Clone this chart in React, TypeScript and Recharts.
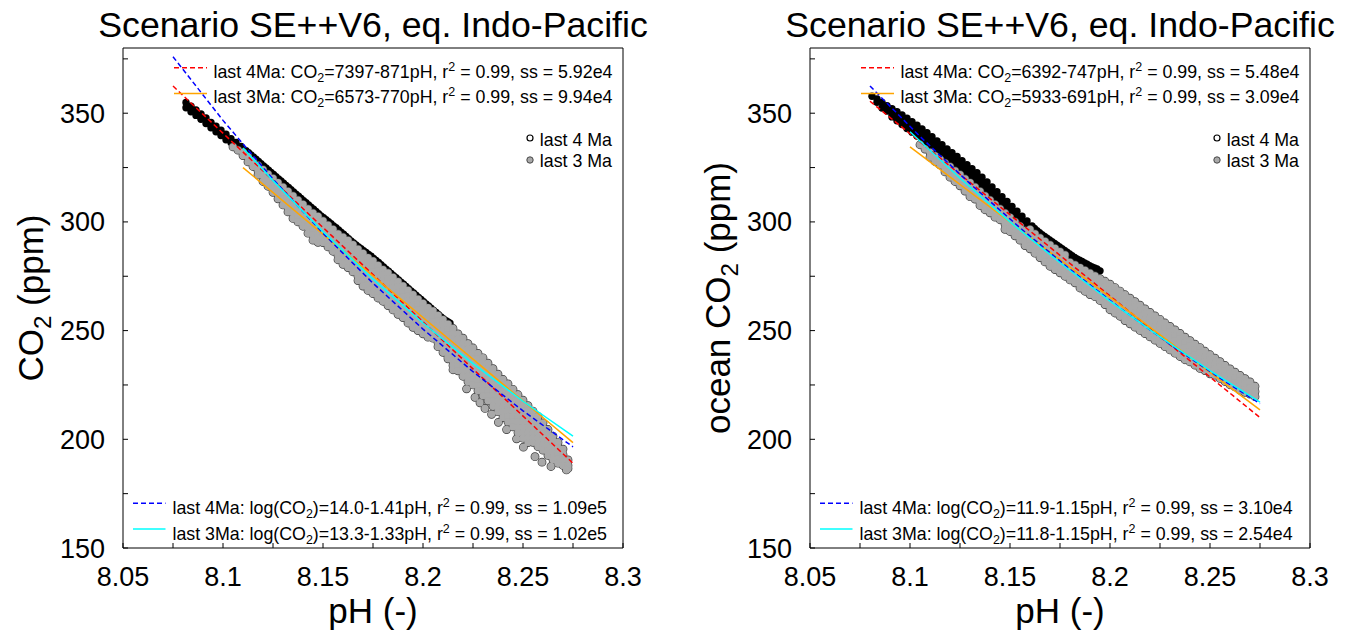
import React from 'react';
import { ScatterChart, Scatter, XAxis, YAxis } from 'recharts';

const FONT = '"Liberation Sans", Arial, Helvetica, sans-serif';

// ---------- axes ----------
const X_DOMAIN: [number, number] = [8.05, 8.3];
const Y_DOMAIN: [number, number] = [150, 380];
const xTicks = [8.05, 8.075, 8.1, 8.125, 8.15, 8.175, 8.2, 8.225, 8.25, 8.275, 8.3];
const xTickLabels = ['8.05', '', '8.1', '', '8.15', '', '8.2', '', '8.25', '', '8.3'];
const yTicks = [150, 175, 200, 225, 250, 275, 300, 325, 350, 375];
const yTickLabels = ['150', '', '200', '', '250', '', '300', '', '350', ''];

// ---------- scatter data: [pH, [CO2 values ...]] ----------
type Col = [number, number[]];

const left4Ma: Col[] = [
  [8.0815, [354.9, 352.5]], [8.084, [353.2, 350.7]], [8.0865, [351.5, 349]], [8.089, [349.7, 347.2]],
  [8.0915, [347.8, 345.3]], [8.094, [345.8, 343.3]], [8.0965, [344, 341.5]], [8.099, [342.2, 339.7]],
  [8.1015, [340.3, 337.8]], [8.104, [338.3, 336.5]], [8.1065, [336.5, 335]], [8.109, [334.7, 333]],
  [8.1115, [332.8]], [8.114, [330.8]], [8.1165, [328.8]], [8.119, [326.8]], [8.1215, [324.8]],
  [8.124, [322.8]], [8.1265, [320.8]], [8.129, [318.8]], [8.1315, [316.8]], [8.134, [314.8]],
  [8.1365, [312.8]], [8.139, [310.8]], [8.1415, [308.8]], [8.144, [306.8]], [8.1465, [304.8]],
  [8.149, [302.8]], [8.1515, [301]], [8.154, [299.2]], [8.1565, [297.3]], [8.159, [295.3]],
  [8.1615, [293.3]], [8.164, [291.3]], [8.1665, [289.4]], [8.169, [287.7]], [8.1715, [285.9]],
  [8.174, [284.2]], [8.1765, [282.3]], [8.179, [280.3]], [8.1815, [278.3]], [8.184, [276.3]],
  [8.1865, [274.3]], [8.189, [272.3]], [8.1915, [270.3]], [8.194, [268.3]], [8.1965, [266.3]],
  [8.199, [264.3]], [8.2015, [262.3]], [8.204, [260.3]], [8.2065, [258.3]], [8.209, [256.3]],
  [8.2115, [254.6]], [8.2135, [253.4]],
  [8.11275, [331.8]], [8.11525, [329.8]], [8.11775, [327.8]], [8.12025, [325.8]], [8.12275, [323.8]],
  [8.12525, [321.8]], [8.12775, [319.8]], [8.13025, [317.8]], [8.13275, [315.8]], [8.13525, [313.8]],
  [8.13775, [311.8]], [8.14025, [309.8]], [8.14275, [307.8]], [8.14525, [305.8]], [8.14775, [303.8]],
  [8.15025, [301.9]], [8.15275, [300.1]], [8.15525, [298.2]], [8.15775, [296.3]], [8.16025, [294.3]],
  [8.16275, [292.3]], [8.16525, [290.3]], [8.16775, [288.5]], [8.17025, [286.8]], [8.17275, [285]],
  [8.17525, [283.2]], [8.17775, [281.3]], [8.18025, [279.3]], [8.18275, [277.3]], [8.18525, [275.3]],
  [8.18775, [273.3]], [8.19025, [271.3]], [8.19275, [269.3]], [8.19525, [267.3]], [8.19775, [265.3]],
  [8.20025, [263.3]], [8.20275, [261.3]], [8.20525, [259.3]], [8.20775, [257.3]], [8.21025, [255.4]],
  [8.2125, [254]],
];

const left3Ma: Col[] = [
  [8.105, [334.5]], [8.1075, [333]], [8.11, [332, 330.5]], [8.1125, [330, 327.6]],
  [8.115, [328, 325.5]], [8.1175, [326, 323.5, 321.6]], [8.12, [324, 321.3, 318.6]],
  [8.1225, [322, 319.2, 316.4]], [8.125, [320, 317.5, 315, 313.6]], [8.1275, [318, 315.5, 313, 310.6]],
  [8.13, [316, 313.3, 310.6, 307.8]], [8.1325, [314, 311.5, 309, 306.5, 304.6]],
  [8.135, [312, 309.4, 306.8, 304.2, 301.6]], [8.1375, [310, 307.5, 305, 302.5, 300]],
  [8.14, [308, 305.5, 303, 300.5, 298]], [8.1425, [306, 303.2, 300.4, 297.6, 294.8]],
  [8.145, [304, 301.5, 299, 296.5, 294, 291.6]], [8.1475, [302.5, 300, 297.5, 295, 292.5, 290.6]],
  [8.15, [300.5, 298, 295.5, 293, 290.5]], [8.1525, [298.5, 296, 293.5, 291, 288.5]],
  [8.155, [296.5, 294, 291.5, 289, 286.5]], [8.1575, [294.5, 292, 289.5, 287, 284.5, 282.6]],
  [8.16, [293, 290.5, 288, 285.5, 283, 280.5]], [8.1625, [291.5, 289, 286.5, 284, 281.5, 279]],
  [8.165, [289.5, 287, 284.5, 282, 279.5, 277]], [8.1675, [287.5, 285, 282.5, 280, 277.5, 275, 273]],
  [8.17, [285.5, 283, 280.5, 278, 275.5, 273, 270.5]], [8.1725, [283.5, 281, 278.5, 276, 273.5, 271, 268.5]],
  [8.175, [282, 279.5, 277, 274.5, 272, 269.5, 267]], [8.1775, [280, 277.5, 275, 272.5, 270, 267.5, 265]],
  [8.18, [278, 275.5, 273, 270.5, 268, 265.5, 263.5]], [8.1825, [276.5, 274, 271.5, 269, 266.5, 264, 261.5]],
  [8.185, [274.5, 272, 269.5, 267, 264.5, 262, 259.5]], [8.1875, [272.5, 270, 267.5, 265, 262.5, 260, 257.5]],
  [8.19, [270.5, 268, 265.5, 263, 260.5, 258, 256]], [8.1925, [268.5, 266, 263.5, 261, 258.5, 256, 253.5]],
  [8.195, [266.5, 264, 261.5, 259, 256.5, 254, 251.5]], [8.1975, [264.5, 262, 259.5, 257, 254.5, 252, 250]],
  [8.2, [262.5, 260, 257.5, 255, 252.5, 250, 248.5]], [8.2025, [260.5, 258, 255.5, 253, 250.5, 248, 247]],
  [8.205, [259, 256.5, 254, 251.5, 249, 246.5]], [8.2075, [257, 254.5, 252, 249.5, 247, 244.5, 242.6]],
  [8.21, [255, 252.5, 250, 247.5, 245, 242.5, 240]], [8.2125, [253, 250.5, 248, 245.5, 243, 240.5, 238, 237]],
  [8.215, [251, 248.5, 246, 243.5, 241, 238.5, 236, 234, 232]], [8.2175, [248.5, 246, 243.5, 241, 238.5, 236, 233.5, 231.5]],
  [8.22, [246.5, 244, 241.5, 239, 236.5, 234, 231.5, 229]], [8.2225, [244, 241.5, 239, 236.5, 234, 231.5, 229, 226.5]],
  [8.225, [242, 239.5, 237, 234.5, 232, 229.5, 227.3, 225]], [8.2275, [239.5, 237, 234.5, 232, 229.5, 227, 224.6, 222.3]],
  [8.23, [237.5, 235, 232.5, 230, 227.5, 225, 222.5, 220]], [8.2325, [235, 232.5, 230, 227.5, 225, 222.5, 220, 217.7]],
  [8.235, [232.5, 230, 227.5, 225, 222.5, 220, 217.6, 215.2]], [8.2375, [230, 227.5, 225, 222.5, 220, 217.5, 215, 212.7]],
  [8.24, [227.5, 225, 222.5, 220, 217.5, 215, 212.5, 210]], [8.2425, [225.5, 223, 220.5, 218, 215.5, 213, 210.5, 208]],
  [8.245, [223, 220.5, 218, 215.5, 213, 210.5, 208, 205.7]], [8.2475, [220.5, 218, 215.5, 213, 210.5, 208, 205.5, 203]],
  [8.25, [218, 215.5, 213, 210.5, 208, 205.5, 203, 200.5]], [8.2525, [215.5, 213, 210.5, 208, 205.5, 203, 200.5, 198.5]],
  [8.255, [213, 210.5, 208, 205.5, 203, 200.5, 198.6]], [8.2575, [210.5, 208, 205.5, 203, 200.5, 198, 196.6]],
  [8.26, [207.5, 205, 202.5, 200, 197.5, 195]], [8.2625, [204.5, 202, 199.5, 197, 194.5, 192.6]],
  [8.265, [201.5, 199, 196.5, 194, 191.5, 190.6]], [8.2675, [198.5, 196, 193.5, 191, 189]],
  [8.27, [195.5, 193, 190.5, 188]], [8.2725, [190.5, 188, 186.6]],
  // isolated low points
  [8.2218, [223.2]], [8.226, [219.3]], [8.2285, [216.8]], [8.231, [214.2]], [8.2343, [211.5]],
  [8.2377, [207.8]], [8.2418, [204.5]], [8.2468, [200.2]], [8.2502, [196.4]], [8.256, [192]],
  [8.2595, [189.5]], [8.264, [187.5]], [8.2717, [185.9]],
];

const right4Ma: Col[] = [
  [8.081, [357.8]], [8.0835, [356.6, 355]], [8.086, [354.9, 352.4]], [8.0885, [353.5, 351]],
  [8.091, [352.1, 349.6, 348.3]], [8.0935, [350.7, 348.2, 346.5]], [8.096, [349.2, 346.7, 344.8]],
  [8.0985, [347.7, 345.2, 343]], [8.101, [346.1, 343.6, 341.3]], [8.1035, [344.5, 342, 339.5]],
  [8.106, [342.8, 340.3, 337.8]], [8.1085, [341, 338.5, 336]], [8.111, [339.2, 336.7, 334.2]],
  [8.1135, [337.3, 334.8, 332.3]], [8.116, [335.5, 333, 330.5]], [8.1185, [333.6, 331.1, 328.6]],
  [8.121, [331.8, 329.3, 326.8]], [8.1235, [330.1, 327.6, 325.1]], [8.126, [328.2, 325.7, 323.2]],
  [8.1285, [326.3, 323.8, 321.3]], [8.131, [324.5, 322, 319.5]], [8.1335, [322.6, 320.1, 317.7]],
  [8.136, [320.6, 318.1, 316.1]], [8.1385, [318.4, 315.9, 313.7]], [8.141, [316.1, 313.6, 311.5]],
  [8.1435, [313.9, 311.4, 309.1]], [8.146, [311.6, 309.1, 306.8]], [8.1485, [309.4, 306.9, 304.5]],
  [8.151, [307.1, 304.6, 302.4]], [8.1535, [304.9, 302.4]], [8.156, [302.6, 300.3]],
  [8.1585, [300.4, 298.2]], [8.161, [298.1]], [8.1635, [296]],
  [8.166, [294.1]], [8.1685, [292.5]], [8.171, [290.9]], [8.1735, [289.3]],
  [8.176, [287.7]], [8.1785, [286.1]], [8.181, [284.5]], [8.1835, [283]],
  [8.186, [281.8]], [8.1885, [280.5]], [8.191, [279.3]], [8.1935, [278.4]], [8.195, [277.5]],
  [8.16225, [297]], [8.16475, [295]], [8.16725, [293.3]], [8.16975, [291.7]], [8.17225, [290.1]],
  [8.17475, [288.5]], [8.17725, [286.9]], [8.17975, [285.3]], [8.18225, [283.7]], [8.18475, [282.4]],
  [8.18725, [281.1]], [8.18975, [279.9]], [8.19225, [278.8]],
];

const right3Ma: Col[] = [
  [8.105, [335.5]], [8.1075, [333.5]], [8.11, [332, 329.8]], [8.1125, [330.3, 327.8]],
  [8.115, [328.7, 326.2]], [8.1175, [327, 324.5, 323]], [8.12, [325.4, 323, 320.6]],
  [8.1225, [323.5, 321, 318.6]], [8.125, [321.7, 319.2, 316.6]], [8.1275, [319.8, 317, 314.2]],
  [8.13, [318, 315.5, 313, 311.6]], [8.1325, [316, 313.3, 310.5]], [8.135, [314, 311.5, 309, 307.6]],
  [8.1375, [312, 309.5, 307, 305.6]], [8.14, [310, 307, 304.2]], [8.1425, [308, 305, 302.2]],
  [8.145, [306, 303.5, 301]], [8.1475, [304, 301.5, 299, 296.6]], [8.15, [302, 299.5, 297, 295.6]],
  [8.1525, [300, 297.5, 295, 293.6]], [8.155, [298, 295.5, 293, 291.6]], [8.1575, [296, 293.5, 291, 289.1]],
  [8.16, [296.5, 294, 291.5, 289, 287.6]], [8.1625, [294.5, 292.2, 289.7, 287.2, 285.6]],
  [8.165, [292.6, 290.4, 288, 285.5, 283.6]], [8.1675, [291, 288.7, 286.2, 283.7, 281.6]],
  [8.17, [289.4, 287, 284.5, 282, 279.6]], [8.1725, [287.8, 285.5, 283, 280.5, 278.1]],
  [8.175, [286.3, 284.2, 281.7, 279.2, 276.6]], [8.1775, [284.8, 282.8, 280.2, 277.6, 275]],
  [8.18, [281.4, 278.7, 276, 273.3]],
  [8.1825, [280.2, 277.5, 274.8, 272]], [8.185, [278.9, 276.4, 273.9, 271.4, 269.6]],
  [8.1875, [277.7, 275.2, 272.7, 270.2, 268.1]], [8.19, [276.4, 273.9, 271.4, 268.9, 266.6]],
  [8.1925, [275.2, 272.7, 270.2, 267.7, 265.6]], [8.195, [273.9, 271.4, 268.9, 266.4, 263.9]],
  [8.1975, [272.7, 270, 267.3, 264.6, 262]], [8.2, [271.4, 268.9, 266.4, 263.9, 261.4, 259.6]],
  [8.2025, [269.8, 267.3, 264.8, 262.3, 259.8, 258.1]], [8.205, [268.2, 265.7, 263.2, 260.7, 258.2, 256.6]],
  [8.2075, [266.5, 264, 261.5, 259, 256.5, 254.6]], [8.21, [264.9, 262.4, 259.9, 257.4, 254.9, 253.1]],
  [8.2125, [263.3, 260.8, 258.3, 255.8, 253.3, 251.6]], [8.215, [261.7, 259.2, 256.7, 254.2, 251.7, 250.1]],
  [8.2175, [260, 257.5, 255, 252.5, 250, 248.6]], [8.22, [258.4, 255.9, 253.4, 250.9, 248.4, 247.1]],
  [8.2225, [256.8, 254.3, 251.8, 249.3, 246.8, 245.6]], [8.225, [255.2, 252.7, 250.2, 247.7, 245.2, 244.1]],
  [8.2275, [253.5, 251, 248.5, 246, 243.5, 242.6]], [8.23, [251.9, 249.4, 246.9, 244.4, 241.9, 241.1]],
  [8.2325, [250.3, 247.8, 245.3, 242.8, 240.3, 239.6]], [8.235, [248.7, 246.2, 243.7, 241.2, 238.7, 238.1]],
  [8.2375, [247, 244.5, 242, 239.5, 237, 236.6]], [8.24, [245.4, 242.9, 240.4, 237.9, 235.6]],
  [8.2425, [243.8, 241.3, 238.8, 236.3, 234.1]], [8.245, [242.2, 239.7, 237.2, 234.7, 232.6]],
  [8.2475, [240.5, 238, 235.5, 233, 231.6]], [8.25, [238.9, 236.4, 233.9, 231.4, 230.1]],
  [8.2525, [237.3, 234.8, 232.3, 229.5]], [8.255, [235.7, 233.2, 230.7, 228]],
  [8.2575, [234, 231.5, 229, 226.6]], [8.26, [232.4, 229.9, 227.4, 225.1]],
  [8.2625, [230.9, 228.4, 225.9, 224.1]], [8.265, [229.4, 226.9, 224.4, 222.6]],
  [8.2675, [227.9, 225.4, 222.9, 221.6]], [8.27, [226.4, 223.6, 220.8]], [8.2725, [224.4, 222, 219.6]],
];

// ---------- fitted curves ----------
type Pt = [number, number];
const leftLin4: Pt[] = [[8.075, 362.5], [8.275, 189]];
const leftLin3: Pt[] = [[8.11, 325], [8.275, 198.5]];
const leftLog4: Pt[] = [
  [8.075, 376], [8.1, 346.7], [8.125, 319.7], [8.15, 294.8], [8.175, 271.8],
  [8.2, 250.7], [8.225, 231.1], [8.25, 213.1], [8.275, 196.5],
];
const leftLog3: Pt[] = [
  [8.11, 334], [8.125, 319], [8.15, 295.5], [8.175, 273.7], [8.2, 253.5],
  [8.225, 234.8], [8.25, 217.5], [8.275, 201.5],
];

const rightLin4: Pt[] = [[8.08, 355.5], [8.275, 210]];
const rightLin3: Pt[] = [[8.1, 334.5], [8.275, 213.5]];
const rightLog4: Pt[] = [
  [8.08, 362.5], [8.105, 339.3], [8.13, 317.6], [8.155, 297.3], [8.18, 278.2],
  [8.205, 260.4], [8.23, 243.7], [8.255, 228.1], [8.275, 216.4],
];
const rightLog3: Pt[] = [
  [8.1, 341.5], [8.125, 320.1], [8.15, 300], [8.175, 281.2], [8.2, 263.6],
  [8.225, 247.1], [8.25, 231.6], [8.275, 217.1],
];

// ---------- texts ----------
const TITLE = 'Scenario SE++V6, eq. Indo-Pacific';
const leftLegendTop = [
  ['last 4Ma: CO', '=7397-871pH, r', ' = 0.99, ss = 5.92e4'],
  ['last 3Ma: CO', '=6573-770pH, r', ' = 0.99, ss = 9.94e4'],
];
const leftLegendBottom = [
  ['last 4Ma: log(CO', ')=14.0-1.41pH, r', ' = 0.99, ss = 1.09e5'],
  ['last 3Ma: log(CO', ')=13.3-1.33pH, r', ' = 0.99, ss = 1.02e5'],
];
const rightLegendTop = [
  ['last 4Ma: CO', '=6392-747pH, r', ' = 0.99, ss = 5.48e4'],
  ['last 3Ma: CO', '=5933-691pH, r', ' = 0.99, ss = 3.09e4'],
];
const rightLegendBottom = [
  ['last 4Ma: log(CO', ')=11.9-1.15pH, r', ' = 0.99, ss = 3.10e4'],
  ['last 3Ma: log(CO', ')=11.8-1.15pH, r', ' = 0.99, ss = 2.54e4'],
];

// ---------- colours ----------
const RED = '#ff0000';
const ORANGE = '#ffa500';
const BLUE = '#0000ff';
const CYAN = '#00ffff';
const GRAY = '#a9a9a9';
const GRAY_EDGE = '#3a3a3a';

const flat = (cols: Col[]) => cols.flatMap(([x, ys]) => ys.map((y) => ({ x, y })));
const pts = (p: Pt[]) => p.map(([x, y]) => ({ x, y }));

const blackDot = (p: any) => <circle cx={p.cx} cy={p.cy} r={3.7} fill="#000" />;
const grayEdgeDot = (p: any) => <circle cx={p.cx} cy={p.cy} r={3.7} fill={GRAY} stroke={GRAY_EDGE} strokeWidth={1.4} />;
const grayFillDot = (p: any) => <circle cx={p.cx} cy={p.cy} r={3.7} fill={GRAY} />;
const noDot = () => <g />;

const fmtX = (v: number) => {
  const i = xTicks.indexOf(v);
  return i >= 0 ? xTickLabels[i] : '';
};
const fmtY = (v: number) => {
  const i = yTicks.indexOf(v);
  return i >= 0 ? yTickLabels[i] : '';
};

const TICK = { fontSize: 27, fill: '#000', fontFamily: FONT };

type PanelProps = {
  left: number;
  width: number;
  black: Col[];
  gray: Col[];
  lin4: Pt[];
  lin3: Pt[];
  log4: Pt[];
  log3: Pt[];
};

function Panel({ left, width, black, gray, lin4, lin3, log4, log3 }: PanelProps) {
  const blackPts = flat(black);
  const grayPts = flat(gray);
  return (
    <div style={{ position: 'absolute', left, top: 0 }}>
      <ScatterChart width={width} height={637} margin={{ top: 47, right: width - 624, bottom: 49, left: 63 }}>
        <XAxis
          xAxisId="b" type="number" dataKey="x" domain={X_DOMAIN} ticks={xTicks} interval={0}
          tickFormatter={fmtX} tickSize={-5} tickMargin={24} height={40} allowDataOverflow
          axisLine={{ stroke: '#000', strokeWidth: 1 }} tickLine={{ stroke: '#000' }} tick={TICK}
        />
        <XAxis
          xAxisId="t" orientation="top" type="number" dataKey="x" domain={X_DOMAIN} ticks={xTicks} interval={0}
          tickSize={-5} height={1} tick={false} allowDataOverflow
          axisLine={{ stroke: '#000', strokeWidth: 1 }} tickLine={{ stroke: '#000' }}
        />
        <YAxis
          yAxisId="l" type="number" dataKey="y" domain={Y_DOMAIN} ticks={yTicks} interval={0}
          tickFormatter={fmtY} tickSize={-5} tickMargin={23} width={60} allowDataOverflow
          axisLine={{ stroke: '#000', strokeWidth: 1 }} tickLine={{ stroke: '#000' }} tick={TICK}
        />
        <YAxis
          yAxisId="r" orientation="right" type="number" dataKey="y" domain={Y_DOMAIN} ticks={yTicks} interval={0}
          tickSize={-5} width={1} tick={false} allowDataOverflow
          axisLine={{ stroke: '#000', strokeWidth: 1 }} tickLine={{ stroke: '#000' }}
        />
        <Scatter xAxisId="b" yAxisId="l" data={blackPts} shape={blackDot} isAnimationActive={false} />
        <Scatter xAxisId="b" yAxisId="l" data={grayPts} shape={grayEdgeDot} isAnimationActive={false} />
        <Scatter xAxisId="b" yAxisId="l" data={grayPts} shape={grayFillDot} isAnimationActive={false} />
        <Scatter xAxisId="b" yAxisId="l" data={pts(lin4)} fill={RED} shape={noDot} isAnimationActive={false}
          line={{ stroke: RED, strokeWidth: 1.5, strokeDasharray: '5 3' }} />
        <Scatter xAxisId="b" yAxisId="l" data={pts(lin3)} fill={ORANGE} shape={noDot} isAnimationActive={false}
          line={{ stroke: ORANGE, strokeWidth: 1.5 }} />
        <Scatter xAxisId="b" yAxisId="l" data={pts(log4)} fill={BLUE} shape={noDot} isAnimationActive={false}
          line={{ stroke: BLUE, strokeWidth: 1.5, strokeDasharray: '5 3' }} />
        <Scatter xAxisId="b" yAxisId="l" data={pts(log3)} fill={CYAN} shape={noDot} isAnimationActive={false}
          line={{ stroke: CYAN, strokeWidth: 1.5 }} />
      </ScatterChart>
    </div>
  );
}

function Eq({ x, y, parts }: { x: number; y: number; parts: string[] }) {
  return (
    <text x={x} y={y} fontSize={17.8} fill="#000" style={{ whiteSpace: 'pre' }}>
      <tspan>{parts[0]}</tspan>
      <tspan fontSize={12.5} dy={4}>2</tspan>
      <tspan dy={-4}>{parts[1]}</tspan>
      <tspan fontSize={12.5} dy={-7}>2</tspan>
      <tspan dy={7}>{parts[2]}</tspan>
    </text>
  );
}

function Overlay() {
  const panels = [
    { fl: 123, top: leftLegendTop, bottom: leftLegendBottom, yl: 'CO', ylx: 43 },
    { fl: 810, top: rightLegendTop, bottom: rightLegendBottom, yl: 'ocean CO', ylx: 730 },
  ];
  return (
    <svg width={1350} height={637} style={{ position: 'absolute', left: 0, top: 0, pointerEvents: 'none' }} fontFamily={FONT}>
      {panels.map((p, i) => {
        const cx = p.fl + 250;
        const fr = p.fl + 500;
        return (
          <g key={i}>
            <text x={cx} y={37} fontSize={35.7} textAnchor="middle" fill="#000">{TITLE}</text>
            <text x={cx} y={623} fontSize={35} textAnchor="middle" fill="#000">pH (-)</text>
            <text transform={`translate(${p.ylx},298) rotate(-90)`} fontSize={35} textAnchor="middle" fill="#000" style={{ whiteSpace: 'pre' }}>
              <tspan>{p.yl}</tspan>
              <tspan fontSize={24} dy={8}>2</tspan>
              <tspan dy={-8}> (ppm)</tspan>
            </text>
            {/* top legend: linear fits */}
            <line x1={p.fl + 51} y1={67.7} x2={p.fl + 84} y2={67.7} stroke={RED} strokeWidth={1.5} strokeDasharray="5 3" />
            <Eq x={p.fl + 90.5} y={78.3} parts={p.top[0]} />
            <line x1={p.fl + 51} y1={93.5} x2={p.fl + 84} y2={93.5} stroke={ORANGE} strokeWidth={1.5} />
            <Eq x={p.fl + 90.5} y={103.3} parts={p.top[1]} />
            {/* marker legend */}
            <circle cx={fr - 93} cy={138} r={3} fill="#fff" stroke="#000" strokeWidth={1.2} />
            <text x={fr - 11} y={145.5} fontSize={17.8} textAnchor="end" fill="#000">last 4 Ma</text>
            <circle cx={fr - 93} cy={160} r={3.2} fill={GRAY} stroke={GRAY_EDGE} strokeWidth={0.9} />
            <text x={fr - 11} y={167.3} fontSize={17.8} textAnchor="end" fill="#000">last 3 Ma</text>
            {/* bottom legend: log fits */}
            <line x1={p.fl + 10} y1={503.3} x2={p.fl + 42.5} y2={503.3} stroke={BLUE} strokeWidth={1.5} strokeDasharray="5 3" />
            <Eq x={p.fl + 49.5} y={514} parts={p.bottom[0]} />
            <line x1={p.fl + 10} y1={529} x2={p.fl + 42.5} y2={529} stroke={CYAN} strokeWidth={1.5} />
            <Eq x={p.fl + 49.5} y={540} parts={p.bottom[1]} />
          </g>
        );
      })}
    </svg>
  );
}

export default function App() {
  return (
    <div style={{ position: 'absolute', left: 0, top: 0, width: 1350, height: 637, overflow: 'hidden', background: '#fff', fontFamily: FONT }}>
      <Panel left={0} width={675} black={left4Ma} gray={left3Ma} lin4={leftLin4} lin3={leftLin3} log4={leftLog4} log3={leftLog3} />
      <Panel left={687} width={663} black={right4Ma} gray={right3Ma} lin4={rightLin4} lin3={rightLin3} log4={rightLog4} log3={rightLog3} />
      <Overlay />
    </div>
  );
}
